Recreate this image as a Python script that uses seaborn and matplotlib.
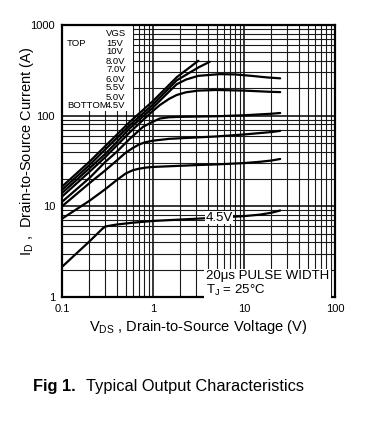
import numpy as np
import pandas as pd
import matplotlib
matplotlib.use('Agg')
import matplotlib.pyplot as plt
import matplotlib.ticker as mticker
from matplotlib.patches import Rectangle
import seaborn as sns

# curves (VDS in V, ID in A)
vgs_labels = ['15V', '10V', '8.0V', '7.0V', '6.0V', '5.5V', '5.0V', '4.5V']

vds_15 = [0.1, 0.2, 0.56, 1, 1.82, 3.15]
id_15 = [16.5, 31, 86, 145, 265, 403]
vds_10 = [0.1, 0.2, 0.56, 1, 1.82, 3.15, 4.2]
id_10 = [15.2, 28.5, 79, 133, 245, 340, 393]
vds_8 = [0.1, 0.3, 0.56, 1, 1.4, 1.82, 2.3, 3.15, 5.4, 8, 12, 18, 25]
id_8 = [14, 38, 73, 123, 172, 222, 250, 275, 287, 285, 275, 264, 258]
vds_7 = [0.1, 0.2, 0.3, 0.56, 0.8, 1, 1.19, 1.5, 1.82, 2.3, 3.15, 5, 10, 20, 25]
id_7 = [12.8, 24, 35, 66, 92, 113, 131, 153, 169, 181, 189, 192, 189, 183, 182]
vds_6 = [0.1, 0.2, 0.3, 0.4, 0.56, 0.78, 1, 1.19, 1.5, 2, 5, 10, 20, 25]
id_6 = [11.2, 20.5, 31, 40, 56, 75.5, 86, 93, 96, 97, 98.5, 101, 105, 107]
vds_55 = [0.1, 0.2, 0.3, 0.4, 0.5, 0.6, 0.7, 0.8, 1, 1.5, 3, 5, 10, 20, 25]
id_55 = [10, 18, 25, 32, 39, 44, 48, 50.5, 53, 55.5, 57.5, 59, 62, 66, 68]
vds_5 = [0.1, 0.2, 0.3, 0.4, 0.5, 0.6, 0.7, 0.85, 1, 2, 3, 5, 10, 15, 20, 25]
id_5 = [7.3, 11.5, 15.5, 19.5, 23, 25, 26, 26.8, 27.2, 28, 28.5, 29, 30, 31, 32, 33.3]
vds_45 = [0.1, 0.2, 0.28, 0.3, 0.4, 0.6, 1, 2, 3, 5, 10, 15, 20, 25]
id_45 = [2.15, 4.1, 5.7, 6.0, 6.3, 6.6, 6.9, 7.15, 7.3, 7.5, 7.8, 8.1, 8.5, 9.0]

all_vds = [vds_15, vds_10, vds_8, vds_7, vds_6, vds_55, vds_5, vds_45]
all_id = [id_15, id_10, id_8, id_7, id_6, id_55, id_5, id_45]

rows = []
for lab, xs, ys in zip(vgs_labels, all_vds, all_id):
    for x, y in zip(xs, ys):
        rows.append({'VGS': lab, 'VDS': x, 'ID': y})
df = pd.DataFrame(rows)

sns.set_style('white')
plt.rcParams['font.family'] = ['Liberation Sans', 'DejaVu Sans']
plt.rcParams['mathtext.fontset'] = 'custom'
plt.rcParams['mathtext.rm'] = 'Liberation Sans'
plt.rcParams['text.color'] = 'black'
plt.rcParams['axes.labelcolor'] = 'black'
plt.rcParams['xtick.color'] = 'black'
plt.rcParams['ytick.color'] = 'black'

fig = plt.figure(figsize=(3.74, 4.32), dpi=100)
ax = fig.add_axes([62/374, 1-297/432, 273/374, 272/432])

sns.lineplot(data=df, x='VDS', y='ID', hue='VGS', palette=['black']*8,
             legend=False, linewidth=1.6, ax=ax, zorder=3, sort=True,
             estimator=None)

ax.set_xscale('log')
ax.set_yscale('log')
ax.set_xlim(0.1, 100)
ax.set_ylim(1, 1000)
ax.set_xticks([0.1, 1, 10, 100], ['0.1', '1', '10', '100'])
ax.set_yticks([1, 10, 100, 1000], ['1', '10', '100', '1000'])
ax.xaxis.set_minor_locator(mticker.LogLocator(base=10, subs=np.arange(2, 10)))
ax.yaxis.set_minor_locator(mticker.LogLocator(base=10, subs=np.arange(2, 10)))
ax.xaxis.set_minor_formatter(mticker.NullFormatter())
ax.yaxis.set_minor_formatter(mticker.NullFormatter())
ax.tick_params(which='both', length=0, labelsize=8, pad=5, colors='black')

ax.set_axisbelow(True)
ax.grid(which='major', color='black', linewidth=1.1)
ax.grid(which='minor', color='#1a1a1a', linewidth=0.8)
for s in ax.spines.values():
    s.set_color('black')
    s.set_linewidth(1.6)

# white box behind the VGS list
ax.add_patch(Rectangle((0, (297-111)/272), (133-62)/273, 1-(297-111)/272,
                       transform=ax.transAxes, facecolor='white',
                       edgecolor='none', zorder=2))


def px(x, y):
    return (x - 62) / 273, (297 - y) / 272


fs = 6.8
ax.text(*px(106, 33), 'VGS', fontsize=fs, va='center', transform=ax.transAxes, zorder=4)
ax.text(*px(67, 43), 'TOP', fontsize=fs, va='center', transform=ax.transAxes, zorder=4)
ax.text(*px(67, 106), 'BOTTOM', fontsize=fs, va='center', transform=ax.transAxes, zorder=4)
for i, lab in enumerate(vgs_labels):
    ax.text(*px(106, 43 + 9*i), lab, fontsize=fs, va='center',
            transform=ax.transAxes, zorder=4)

ax.text(5.3, 7.5, '4.5V', fontsize=9.5, ha='center', va='center', zorder=4,
        bbox=dict(facecolor='white', edgecolor='none', pad=0.5))

ax.text(*px(206, 284), '20\u03bcs PULSE WIDTH\nT$_\\mathregular{J}$ = 25\u00b0C', fontsize=9.5,
        va='center', ha='left', transform=ax.transAxes, zorder=4, linespacing=1.0,
        bbox=dict(facecolor='white', edgecolor='none', pad=1.5))

ax.set_xlabel('V$_\\mathregular{DS}$ , Drain-to-Source Voltage (V)', fontsize=10.5, labelpad=3)
ax.set_ylabel('I$_\\mathregular{D}$ ,  Drain-to-Source Current (A)', fontsize=10.5)
ax.yaxis.set_label_coords(-0.095, (297-151)/272)

fig.text(33/374, 1-387/432, 'Fig 1.', fontsize=11.8, fontweight='bold', va='center')
fig.text(86/374, 1-387/432, 'Typical Output Characteristics', fontsize=11.8, va='center')

fig.savefig('out.png', dpi=100, facecolor='white')
